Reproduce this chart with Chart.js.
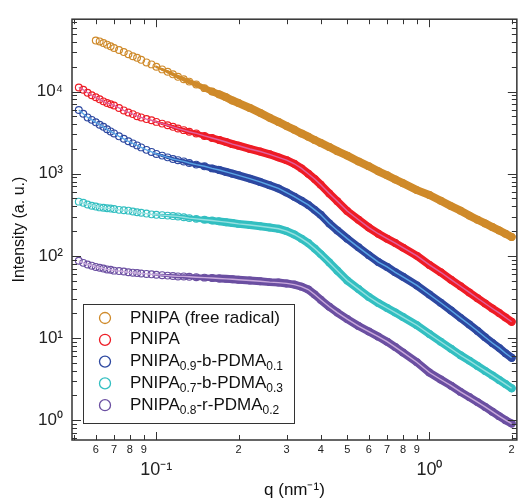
<!DOCTYPE html>
<html>
<head>
<meta charset="utf-8">
<script src="https://cdn.jsdelivr.net/npm/chart.js@4.4.1/dist/chart.umd.min.js"></script>
<style>html,body{margin:0;padding:0;background:#fff}</style>
</head>
<body>
<canvas id="chart" width="522" height="500"></canvas>
<script>
// q grid (nm^-1) shared by all curves
const qValues = [0.052,0.054,0.056,0.058,0.060,0.062,0.064,0.066,0.068,0.070,
  0.073,0.076,0.079,0.082,0.085,0.088,0.092,0.096,0.10,0.105,
  0.11,0.115,0.12,0.126,0.132,0.14,0.15,0.16,0.17,0.18,
  0.19,0.2,0.22,0.24,0.26,0.28,0.30,0.32,0.34,0.36,
  0.38,0.40,0.43,0.46,0.50,0.55,0.60,0.65,0.70,0.75,
  0.80,0.90,1.0,1.1,1.2,1.3,1.4,1.5,1.6,1.7,
  1.8,1.9,2.0];

const seriesLabels = ['PNIPA (free radical)', 'PNIPA', 'PNIPA_{0.9}-b-PDMA_{0.1}', 'PNIPA_{0.7}-b-PDMA_{0.3}', 'PNIPA_{0.8}-r-PDMA_{0.2}'];

const freeRadical = [null,null,null,null,41700,40700,38900,37200,35500,33900,
  32000,30200,28500,26900,25700,24300,22600,21400,20000,18600,
  17400,16200,15100,14100,13200,12200,11000,10000,9230,8510,
  7760,7240,6310,5500,4790,4270,3800,3430,3090,2820,
  2570,2370,2110,1880,1660,1410,1230,1070,955,851,
  767,631,550,468,403,355,309,275,248,224,
  204,186,170];

const pnipa = [11200,10500,9660,9020,8510,8040,7590,7240,7000,6760,
  6310,5890,5560,5310,5010,4840,4620,4470,4270,4070,
  3890,3720,3550,3390,3240,3090,2880,2720,2570,2430,
  2290,2190,2000,1860,1720,1580,1460,1320,1160,1000,
  861,733,575,462,351,275,221,186,162,143,
  126,100,77.6,63.1,51.3,42.7,35.9,30.5,26.3,22.9,
  20.2,17.8,15.8];

const block91 = [5960,5370,4840,4520,4220,3940,3720,3470,3270,3090,
  2850,2660,2480,2340,2210,2090,1950,1840,1740,1660,
  1580,1510,1460,1410,1350,1290,1230,1160,1110,1050,
  1000,955,871,794,724,661,589,525,468,417,
  363,316,248,204,162,127,102,84.1,73.3,63.1,
  55.6,43.7,33.9,26.9,21.6,17.6,14.6,12.2,10.2,8.71,
  7.59,6.53,5.75];

const block73 = [457,442,422,407,398,389,385,380,376,372,
  363,359,355,347,339,335,327,320,316,313,
  309,305,302,295,288,282,275,269,263,257,
  251,245,237,229,221,214,200,182,162,143,
  123,105,83.2,66.1,50.1,39.4,31.6,26.6,23.2,20.4,
  18.0,14.3,11.2,9.02,7.41,6.17,5.31,4.57,3.98,3.51,
  3.09,2.75,2.45];

const random82 = [87.1,82.2,78.5,75.9,73.3,71.6,70.0,68.4,67.6,66.1,
  65.3,64.6,63.1,62.4,61.7,61.0,60.3,59.6,58.9,58.2,
  57.5,56.9,56.2,56.2,55.6,55.0,54.3,53.7,53.1,52.5,
  51.9,51.3,50.1,49.0,47.9,47.3,46.2,44.7,42.2,38.9,
  33.9,29.2,24.0,20.4,17.0,14.0,12.0,10.4,9.02,7.76,
  6.68,5.07,3.80,3.13,2.63,2.21,1.91,1.66,1.45,1.27,
  1.12,1.0,0.91];

const xTickValues = [0.06,0.07,0.08,0.09,0.1,0.2,0.3,0.4,0.5,0.6,0.7,0.8,0.9,1,2];
const xTickLabels = ['6','7','8','9','10\u207B\u00B9','2','3','4','5','6','7','8','9','10\u2070','2'];
const yTickValues = [1,10,100,1000,10000];
const yTickLabels = ['10\u2070','10\u00B9','10\u00B2','10\u00B3','10\u2074'];

const colors = ['#cf8a2a','#ee1c25','#2d48a0','#33bfc1','#6b4fa1'];
const fitColors = [null,'#e0609e','#5aa7e6','#96e0e0','#c9a9dc'];
const FONT = "'Liberation Sans', Arial, Helvetica, sans-serif";

// band width grows as the markers get denser
function bandWidth(c){
  const q = c.p0.parsed.x;
  return Math.min(8, 2.5 + (q - 0.1) / 0.07 * 5.5);
}

const allSeries = [freeRadical, pnipa, block91, block73, random82];
const datasets = [];
allSeries.forEach(function(vals, i){
  const pts = qValues.map(function(q, k){ return {x:q, y:vals[k]}; }).filter(function(p){ return p.y != null; });
  // open circles
  datasets.push({label:seriesLabels[i], data:pts, showLine:false, pointRadius:3.4, pointBorderWidth:1.15,
    pointBorderColor:colors[i], pointBackgroundColor:'rgba(0,0,0,0)', order:1});
  // dense markers at high q merge into a solid band
  datasets.push({label:'', data:pts.filter(function(p){ return p.x >= 0.1; }), showLine:true, borderColor:colors[i],
    borderWidth:8, segment:{borderWidth:bandWidth}, pointRadius:0, borderCapStyle:'round', borderJoinStyle:'round', order:2});
  // fit curve
  if (fitColors[i]) {
    datasets.push({label:'', data:pts, showLine:true, borderColor:fitColors[i], borderWidth:1.4, pointRadius:0, order:0});
  }
});

// frame with inward ticks on all four sides
const frameTicks = {
  id:'frameTicks',
  afterDraw(chart){
    const ctx = chart.ctx, a = chart.chartArea, x = chart.scales.x, y = chart.scales.y;
    ctx.save();
    ctx.strokeStyle = '#333';
    ctx.lineWidth = 1;
    ctx.beginPath();
    for (let e = -2; e <= 0; e++) {
      for (let m = 1; m <= 9; m++) {
        const v = m * Math.pow(10, e);
        if (v < x.min || v > x.max) continue;
        const px = Math.round(x.getPixelForValue(v)) + 0.5;
        const len = m === 1 ? 8 : 5;
        ctx.moveTo(px, a.bottom); ctx.lineTo(px, a.bottom - len);
        ctx.moveTo(px, a.top); ctx.lineTo(px, a.top + len);
      }
    }
    for (let e = -1; e <= 4; e++) {
      for (let m = 1; m <= 9; m++) {
        const v = m * Math.pow(10, e);
        if (v < y.min || v > y.max) continue;
        const py = Math.round(y.getPixelForValue(v)) + 0.5;
        const len = m === 1 ? 9 : 5;
        ctx.moveTo(a.left, py); ctx.lineTo(a.left + len, py);
        ctx.moveTo(a.right, py); ctx.lineTo(a.right - len, py);
      }
    }
    ctx.stroke();
    ctx.lineWidth = 1.5;
    ctx.strokeRect(a.left, a.top, a.right - a.left, a.bottom - a.top);
    ctx.restore();
  }
};

// legend box with subscripts
function drawRich(ctx, text, x, y){
  const parts = text.split(/_\{([^}]*)\}/);
  parts.forEach(function(s, i){
    if (!s) return;
    if (i % 2 === 1) {
      ctx.font = '12px ' + FONT;
      ctx.fillText(s, x, y + 5);
    } else {
      ctx.font = '17px ' + FONT;
      ctx.fillText(s, x, y);
    }
    x += ctx.measureText(s).width;
  });
}
const richLegend = {
  id:'richLegend',
  afterDraw(chart){
    const ctx = chart.ctx;
    ctx.save();
    ctx.fillStyle = '#fff';
    ctx.fillRect(83, 304, 211, 119);
    ctx.strokeStyle = '#333';
    ctx.lineWidth = 1;
    ctx.strokeRect(83.5, 304.5, 211, 119);
    ctx.textBaseline = 'middle';
    seriesLabels.forEach(function(lab, i){
      const ry = 318 + i * 21.8;
      ctx.beginPath();
      ctx.arc(105, ry, 5.5, 0, Math.PI * 2);
      ctx.strokeStyle = colors[i];
      ctx.lineWidth = 1.3;
      ctx.stroke();
      ctx.fillStyle = '#111';
      drawRich(ctx, lab, 130, ry);
    });
    ctx.restore();
  }
};

new Chart(document.getElementById('chart').getContext('2d'), {
  type:'scatter',
  data:{datasets:datasets},
  options:{
    responsive:false,
    animation:false,
    devicePixelRatio:1,
    layout:{padding:{top:15, right:2, left:0, bottom:0}},
    plugins:{legend:{display:false}, tooltip:{enabled:false}},
    scales:{
      x:{
        type:'logarithmic', min:0.0491, max:2.09,
        grid:{display:false, drawTicks:false}, border:{display:false},
        afterBuildTicks: function(s){ s.ticks = xTickValues.map(function(v, i){ return {value:v, major:xTickLabels[i].indexOf('10') === 0}; }); },
        afterFit: function(s){ s.height = 60; },
        ticks:{
          autoSkip:false, maxRotation:0, padding:3, color:'#222',
          font: function(c){ return (c.tick && c.tick.major) ? {family:FONT, size:18, lineHeight:1.0} : {family:FONT, size:11, lineHeight:1.2}; },
          callback: function(v, i){ const l = xTickLabels[i]; return l.indexOf('10') === 0 ? ['', l] : l; }
        },
        title:{display:true, text:'q (nm\u207B\u00B9)', color:'#111', font:{family:FONT, size:17}, padding:{top:0, bottom:-1}}
      },
      y:{
        type:'logarithmic', min:0.574, max:75900,
        grid:{display:false, drawTicks:false}, border:{display:false},
        afterBuildTicks: function(s){ s.ticks = yTickValues.map(function(v){ return {value:v, major:true}; }); },
        afterFit: function(s){ s.width = 72; },
        ticks:{
          padding:9, color:'#222', font:{family:FONT, size:17},
          callback: function(v, i){ return yTickLabels[i]; }
        },
        title:{display:true, text:'Intensity (a. u.)', color:'#111', font:{family:FONT, size:16}, padding:{top:10, bottom:0}}
      }
    }
  },
  plugins:[frameTicks, richLegend]
});
</script>
</body>
</html>
